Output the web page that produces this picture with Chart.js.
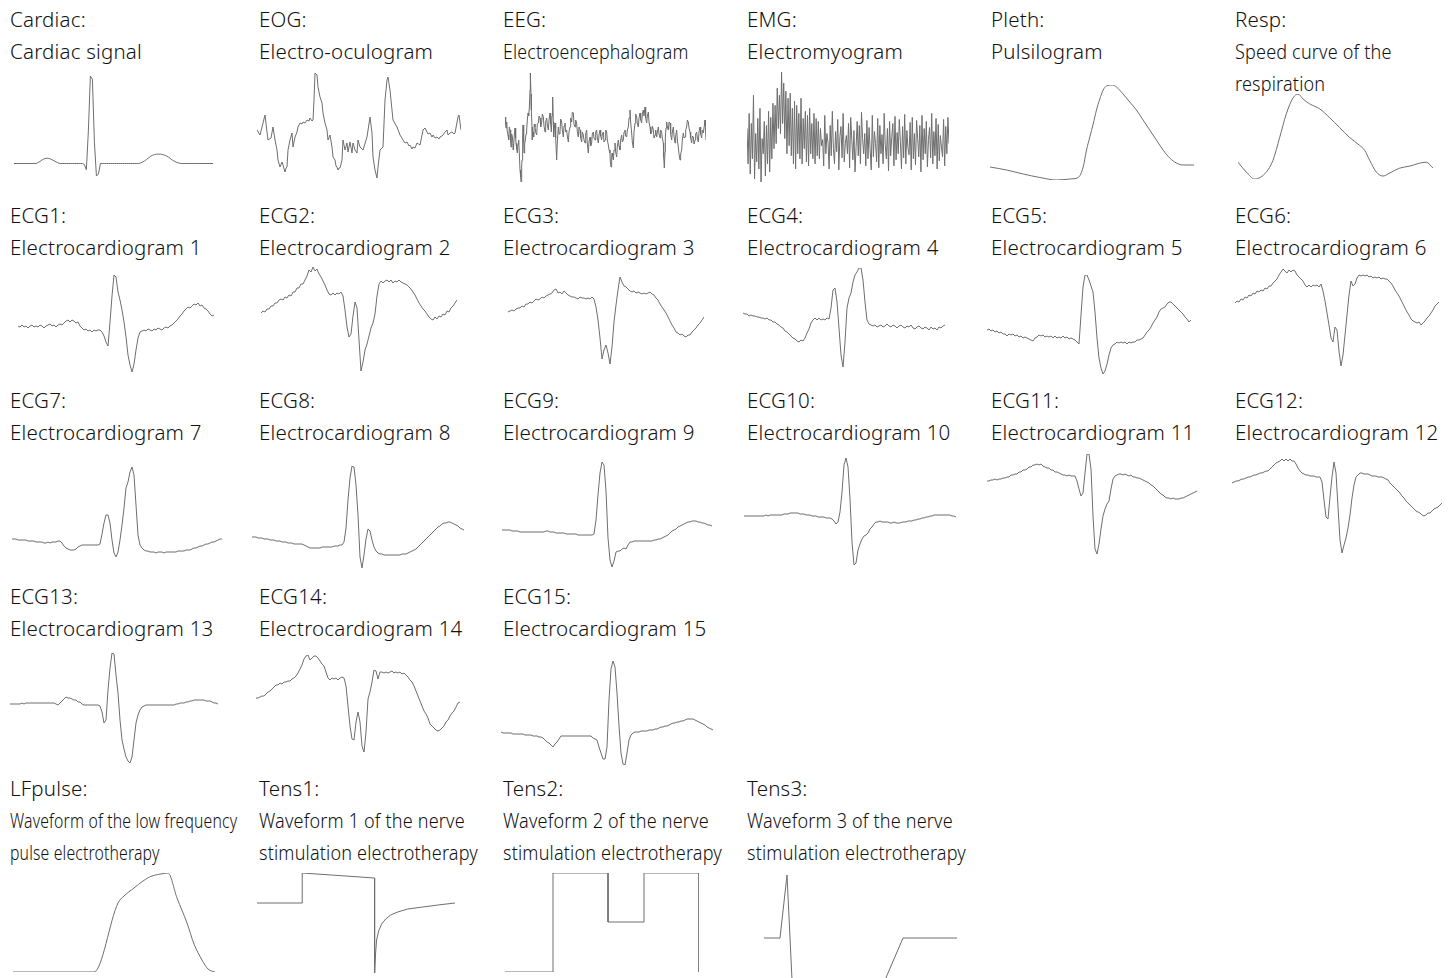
<!DOCTYPE html>
<html>
<head>
<meta charset="utf-8">
<title>Biosignal waveforms</title>
<style>
    html, body {
        margin: 0;
        padding: 0;
        background: #FFFFFF;
        overflow: hidden;
    }
    body {
        position: relative;
        width: 1454px;
        height: 978px;
        font-family: 'Noto Sans', sans-serif;
        font-weight: 300;
        color: #111111;
    }
    .label {
        position: absolute;
        font-size: 20.5px;
        letter-spacing: 0.2px;
        line-height: 32px;
        white-space: nowrap;
    }
    .label span {
        display: block;
        transform-origin: 0 50%;
    }
    .plot {
        position: absolute;
    }
</style>
<script src="https://cdn.jsdelivr.net/npm/chart.js"></script>
</head>
<body>
<script>
// signal names
const codes = ['Cardiac', 'EOG', 'EEG', 'EMG', 'Pleth', 'Resp',
    'ECG1', 'ECG2', 'ECG3', 'ECG4', 'ECG5', 'ECG6',
    'ECG7', 'ECG8', 'ECG9', 'ECG10', 'ECG11', 'ECG12',
    'ECG13', 'ECG14', 'ECG15',
    'LFpulse', 'Tens1', 'Tens2', 'Tens3'];

const names = ['Cardiac signal', 'Electro-oculogram', 'Electroencephalogram', 'Electromyogram', 'Pulsilogram',
    'Speed curve of the\nrespiration',
    'Electrocardiogram 1', 'Electrocardiogram 2', 'Electrocardiogram 3', 'Electrocardiogram 4',
    'Electrocardiogram 5', 'Electrocardiogram 6', 'Electrocardiogram 7', 'Electrocardiogram 8',
    'Electrocardiogram 9', 'Electrocardiogram 10', 'Electrocardiogram 11', 'Electrocardiogram 12',
    'Electrocardiogram 13', 'Electrocardiogram 14', 'Electrocardiogram 15',
    'Waveform of the low frequency\npulse electrotherapy',
    'Waveform 1 of the nerve\nstimulation electrotherapy',
    'Waveform 2 of the nerve\nstimulation electrotherapy',
    'Waveform 3 of the nerve\nstimulation electrotherapy'];

// samples (plain arrays = evenly spaced, [t, v] = timed points)
const cardiac = [14,14,14,14,14,14,14,14,14,14,14,
    14,15,16,17.5,18.5,19,19,18.5,17.5,16.5,15.5,14.5,14,
    14,14,14,14,14,14,14,14,14,14,14,
    13,8,45,98,95,35,2,4,14,
    14,14,14,14,14,14,14,14,14,14,14,14,14,14,14,14,14,14,
    14,14.5,15.5,16.5,18,19.5,21,22,22.5,23,23,23,22.5,22,21,20,18.5,17,16,15,14.5,14,14,
    14,14,14,14,14,14,14,14,14,14,14,14,14,14,14];

const eog = [[0,50],[3,45],[6,57],[8,65],[10,48],[11,40],[14,42],[16,53],[18,40],[20,30],[21,20],[23,13],
    [25,18],[26,15],[28,8],[29,12],[30,13],[31,30],[33,40],[35,47],[36,33],[38,43],[40,48],[41,53],[43,57],
    [45,56],[46,58],[48,57],[50,60],[52,59],[53,62],[55,59],[56,60],[57,80],[58,107],[60,105],[61,93],[63,83],
    [65,77],[66,67],[68,57],[70,50],[71,40],[73,45],[75,33],[76,23],[78,20],[79,14],[80,13],[81,10],[82,12],
    [83,12],[85,20],[86,40],[88,30],[90,37],[91,28],[93,38],[95,27],[96,37],[98,30],[100,27],[101,40],
    [103,33],[106,30],[110,43],[113,63],[115,47],[116,23],[118,10],[120,2],[121,13],[123,30],[126,33],
    [128,80],[130,100],[131,103],[133,90],[135,70],[136,60],[140,53],[143,45],[146,40],[148,37],[150,38],
    [152,34],[153,35],[155,31],[156,33],[158,32],[160,37],[163,35],[166,50],[168,52],[170,48],[171,46],
    [173,47],[175,43],[176,45],[178,42],[180,43],[182,41],[183,43],[185,44],[186,45],[188,48],[190,50],
    [191,45],[193,47],[195,48],[197,46],[198,47],[201,63],[202,65],[204,50]];

const eeg = [[0,65],[2,58],[3,54],[5,60],[7,50],[9,47],[11,42],[13,55],[15,52],[17,40],[18,35],[20,48],
    [22,45],[24,38],[25,32],[28,47],[30,54],[32,44],[33,39],[35,33],[37,29],[39,38],[41,42],[43,28],[45,12],
    [47,5],[48,0],[50,15],[51,22],[53,45],[54,57],[56,40],[57,29],[59,38],[61,42],[63,48],[65,52],[67,62],
    [69,69],[71,66],[73,75],[75,92],[76,109],[78,88],[79,72],[81,55],[82,42],[84,50],[86,45],[88,58],[90,55],
    [92,50],[95,47],[97,58],[100,59],[102,66],[105,64],[107,55],[110,59],[112,68],[115,65],[117,56],[120,50],
    [122,60],[125,64],[127,57],[130,52],[132,62],[135,69],[137,58],[139,50],[141,66],[143,85],[145,60],
    [146,45],[148,54],[150,59],[152,44],[155,22],[157,40],[160,55],[162,48],[165,50],[167,63],[170,60],
    [172,52],[175,45],[177,56],[180,59],[182,50],[185,52],[187,46],[190,40],[192,50],[195,55],[197,64],
    [200,60],[202,70],[205,69],[207,58],[210,55],[212,62],[215,59],[217,50],[220,45],[222,55],[225,52],
    [227,44],[230,40],[232,50],[235,47],[237,42],[240,39],[242,48],[245,52],[247,38],[250,29],[252,40],
    [255,45],[257,36],[260,39],[262,48],[265,50],[267,44],[270,42],[272,50],[275,52],[277,44],[280,39],
    [282,47],[285,52],[287,46],[290,42],[292,48],[295,50],[297,40],[300,42],[302,52],[305,50],[307,42],
    [310,37],[312,32],[315,29],[316,20],[318,15],[320,25],[321,29],[323,26],[325,22],[327,32],[330,39],
    [332,30],[335,25],[337,36],[340,42],[342,36],[345,32],[347,42],[350,47],[352,40],[355,42],[357,50],
    [360,52],[362,46],[365,45],[367,52],[370,55],[372,64],[375,72],[377,60],[380,49],[382,40],[385,34],
    [387,50],[390,59],[392,68],[395,65],[397,58],[400,55],[402,64],[405,69],[407,62],[410,59],[412,68],
    [415,72],[417,66],[420,75],[422,64],[425,59],[427,66],[430,70],[432,60],[435,55],[437,48],[440,50],
    [442,56],[445,52],[447,44],[450,47],[452,52],[455,45],[457,50],[460,55],[462,48],[465,44],[467,52],
    [470,50],[472,44],[475,39],[476,25],[478,14],[480,30],[481,45],[483,54],[485,60],[487,55],[490,52],
    [492,60],[495,59],[497,48],[500,42],[502,50],[505,55],[507,46],[510,39],[512,46],[515,52],[517,42],
    [520,35],[522,28],[525,22],[527,28],[530,32],[532,42],[535,49],[537,44],[540,45],[542,52],[545,55],
    [547,62],[550,60],[552,54],[555,50],[557,44],[560,39],[562,46],[565,45],[567,38],[570,42],[572,48],
    [575,50],[577,44],[580,40],[582,50],[585,55],[587,48],[590,44],[592,52],[595,49],[597,54],[600,62],
    [601,56],[603,42]];

const emg = [55,20,70,10,60,25,88,5,50,22,65,15,75,2,45,30,62,8,58,20,72,12,66,25,80,35,
    78,40,95,55,88,50,111,60,100,45,92,30,85,38,90,28,75,20,
    82,15,78,30,70,25,85,20,65,35,72,22,68,18,75,30,60,25,70,20,65,28,
    62,25,55,38,44,18,68,30,50,41,15,58,28,72,35,20,52,32,64,14,47,57,26,70,22,40,
    48,30,60,16,66,44,24,53,12,37,62,28,58,20,71,45,30,50,18,63,25,56,34,14,
    68,27,52,40,22,65,16,58,30,49,20,70,38,25,55,13,62,28,46,60,18,67,24,51,
    30,64,42,15,57,26,69,20,53,36,29,61,14,66,25,50,19,63,45,27,58,12,68,24,
    55,30,62,17,44,56,26,70,20,52,28,65,15,59,23,48,37,27,64,18,57,30,66,40];

const pleth = [[0,15],[50,12],[100,8],[150,4.5],[200,2],[240,3],[265,4.5],[280,15],[290,32],[300,45],
    [310,58],[320,72],[330,83],[340,92],[350,96],[367,97],[380,95],[400,88],[420,80],[440,72],[460,62],
    [480,52],[500,42],[520,32],[540,24],[560,19],[580,17],[613,17]];

const resp = [[0,18],[25,8],[50,1],[85,8],[105,20],[125,43],[145,67],[165,83],[180,87],[195,82],[215,77],
    [245,72],[275,63],[305,53],[335,43],[365,35],[380,30],[395,20],[415,8],[435,4],[455,7],[485,12],
    [515,14],[545,17],[565,18],[585,12]];

const ecg1 = [46,45,47,45,46,44,46,47,45,46,45,47,46,44,46,47,48,46,47,45,47,48,47,
    49,51,52,50,52,51,49,50,
    46,44,42,43,41,42,40,42,41,42,
    42,40,36,30,26,
    50,76,97,95,80,
    72,62,50,35,17,7,0,8,
    22,34,40,41,42,
    41,43,42,41,43,42,44,43,42,44,45,44,46,47,49,51,53,
    56,58,61,63,65,64,66,68,67,69,66,67,64,63,61,58,56,57];

const ecg2 = [59,61,60,63,63,66,66,69,69,72,73,72,75,74,77,76,80,80,84,84,
    88,88,92,96,102,100,105,101,103,98,95,91,87,82,78,77,79,77,79,78,
    80,76,62,45,35,38,56,70,64,32,1,10,22,28,36,44,49,58,76,88,
    91,89,91,92,90,92,89,91,90,92,90,89,88,87,85,83,80,77,73,69,
    66,63,61,58,55,53,52,55,53,56,55,58,57,61,60,64,66,69,72];

const ecg3 = [53,54,55,54,56,57,57,59,58,61,61,63,62,64,66,65,66,68,67,69,
    70,71,72,75,76,72,73,71,74,72,70,69,68,68,67,66,68,67,67,66,
    67,66,68,66,58,45,27,6,15,20,12,1,18,43,60,75,88,83,79,78,
    76,74,73,74,72,73,72,71,72,71,72,73,71,70,67,65,61,58,55,52,
    48,44,40,37,33,32,30,31,29,28,30,30,33,35,37,40,42,45,48];

const ecg4 = [57,56,56,54,55,54,54,53,53,52,52,51,52,50,50,48,48,46,45,43,
    42,39,38,36,34,32,31,29,28,30,29,32,37,41,47,50,52,50,52,50,
    51,50,52,51,62,80,82,68,42,15,3,28,62,72,77,88,95,98,102,102,
    90,68,50,46,45,
    44,45,43,44,45,43,44,46,44,43,45,44,42,44,45,43,42,44,43,45,
    42,41,43,44,42,41,43,42,40,43,41,42,40,43,42,44,45];

const ecg5 = [45,46,44,45,43,44,42,43,41,41,39,41,40,41,39,40,38,39,37,38,
    37,36,35,34,37,38,40,39,40,38,39,38,39,37,39,37,38,37,39,37,
    38,36,37,36,35,33,31,60,88,100,100,95,89,83,63,37,17,7,1,4,
    11,20,27,30,31,33,32,33,32,33,31,33,32,33,33,35,35,36,37,40,
    43,45,48,52,55,58,63,66,67,68,71,73,73,71,69,67,65,63,61,58,
    56,53,55];

const ecg6 = [65,67,66,69,68,71,70,73,72,75,74,77,76,78,77,80,79,82,82,85,
    87,89,93,96,99,97,95,98,96,98,97,93,91,89,87,83,81,83,81,83,
    82,83,81,84,77,67,55,43,30,26,41,38,17,2,13,33,53,73,87,82,
    84,90,93,92,93,92,93,91,92,90,91,90,91,89,90,89,89,87,85,82,
    78,75,72,68,64,60,56,53,49,47,46,45,46,43,45,47,50,52,55,58,
    62,64,66];

const ecg7 = [19,19,19,18,18,18,18,18,17,17,17,17,16,16,16,16,15,15,16,15,16,16,16,17,17,
    15,12,10,9,8,8,8,9,11,12,13,13,13,13,13,13,13,13,13,14,
    24,35,43,43,35,18,5,1,6,18,33,50,70,76,86,91,83,53,23,13,10,8,7,7,6,
    6,6,5,6,6,6,5,6,6,6,6,6,
    6,7,7,7,7,8,8,8,9,10,10,11,12,12,13,14,14,15,16,16,17,18,19,19];

const ecg8 = [34,34,34,33,33,33,32,32,32,31,31,31,30,30,30,29,29,29,28,28,
    28,27,27,27,27,27,26,25,24,23,23,23,23,23,23,24,24,24,24,24,
    24,25,25,25,26,26,29,43,71,93,105,104,86,56,14,3,16,32,42,40,
    31,24,20,18,17,17,16,16,16,16,16,16,16,16,16,17,17,17,18,19,
    20,21,22,24,26,28,30,32,34,36,38,40,42,44,45,47,48,48,49,49,
    48,47,46,45,43,42,41];

const ecg9 = [38,38,38,38,38,37,37,37,37,36,36,36,36,36,36,36,36,36,36,36,
    36,36,37,37,36,36,36,35,35,35,35,35,34,34,34,34,34,34,33,33,
    33,33,33,33,33,33,34,48,73,95,106,103,77,30,8,1,7,16,17,17,
    19,20,19,23,26,26,27,27,27,27,27,27,27,27,27,27,28,28,29,29,
    30,31,32,33,35,37,38,39,41,42,43,44,45,46,46,47,47,47,46,46,
    45,45,44,43,43,42];

const ecg10 = [51,51,51,51,51,51,51,51,51,51,51,52,51,52,52,52,52,52,52,52,
    53,53,53,54,54,54,54,54,53,53,53,52,52,52,51,51,51,50,50,50,
    50,49,49,49,48,46,43,45,55,75,102,109,100,68,25,2,4,17,23,28,
    31,32,34,38,40,43,45,45,46,45,45,45,45,44,44,45,44,44,44,45,
    45,45,46,46,46,47,47,48,48,49,49,50,50,51,51,52,52,52,52,52,
    52,52,52,52,51,51,50];

const ecg11 = [75,75,76,76,77,76,77,77,78,78,79,79,81,81,82,82,84,84,86,86,
    87,89,89,91,91,92,91,92,90,89,88,88,86,86,84,84,83,82,81,81,
    80,81,80,80,80,75,67,60,63,83,102,102,87,40,7,2,12,27,40,47,
    52,55,67,77,80,81,82,82,81,82,81,80,81,79,79,78,78,77,76,75,
    74,73,71,70,68,66,64,62,61,59,58,58,57,58,57,57,57,58,58,59,
    60,61,62,63,64,65];

const ecg12 = [73,74,75,75,76,77,77,78,79,79,80,81,81,82,83,83,84,85,85,87,
    89,91,93,94,95,97,95,97,95,97,95,95,92,88,85,83,82,81,81,80,
    80,80,79,79,79,74,56,39,37,59,79,94,83,49,16,3,11,18,28,41,
    58,71,79,81,83,83,82,82,82,81,80,80,80,79,79,79,78,77,76,73,
    71,69,67,65,63,60,58,55,53,51,49,47,45,44,43,41,40,41,43,43,
    45,47,48,49,51,53];

const ecg13 = [59,59,59,59,59,59,60,59,60,60,60,60,60,60,60,60,60,60,60,60,
    60,60,60,59,58,60,62,64,66,65,65,64,63,63,61,61,59,58,58,58,
    58,58,58,58,58,57,51,40,43,73,95,110,109,88,70,43,23,14,6,2,
    0,6,23,40,48,53,56,57,58,58,58,58,58,58,58,58,58,58,58,58,
    58,58,58,59,59,60,60,60,61,61,62,62,63,63,63,63,63,63,62,62,
    62,61,60,60,59];

const ecg14 = [56,56,57,58,58,60,62,63,65,67,69,69,71,70,72,72,73,73,75,76,
    78,81,85,89,95,98,99,94,96,98,98,96,93,90,88,82,76,74,76,75,
    76,74,76,77,76,68,48,28,15,14,32,42,32,8,2,22,55,62,72,84,
    83,75,82,82,81,82,81,82,83,81,82,81,82,80,81,79,77,74,72,68,
    63,58,53,48,43,40,36,30,28,26,24,23,24,26,28,32,34,38,41,43,
    47,51,52];

const ecg15 = [33,32,32,32,32,32,31,31,31,31,31,31,30,30,30,30,29,29,29,28,
    28,27,25,23,22,20,18,21,23,26,29,29,29,29,29,29,29,29,29,29,
    29,29,29,29,29,29,27,26,25,18,12,6,6,18,65,96,104,98,72,39,
    12,1,0,12,25,30,32,33,33,33,34,34,34,34,35,35,35,36,36,37,
    38,38,39,39,40,41,42,42,43,43,44,44,45,46,46,46,46,45,44,43,
    42,41,40,38,37,36,35];

const lfpulse = [[0,0],[81,0],[105,69],[111,76],[121,84],[130,91],[139,96],[148,98],[155,99],
    [164,74],[174,49],[181,28],[189,12],[195,3],[202,0]];

const tens1 = [[0,70],[45,70],[45,100],[117,95],[117,0],[118,20],[119,33],[121,42],[124,49],[128,54],
    [133,58],[140,61],[150,64],[165,66],[180,68],[197,70]];

const tens2 = [[0,0],[48,0],[48,99],[103,99],[103,50],[139,50],[139,99],[194,99],[194,0]];

const tens3 = [[0,0],[16,0],[23,63],[29,-63],[112,-63],[139,0],[193,0]];

const signals = [cardiac, eog, eeg, emg, pleth, resp,
    ecg1, ecg2, ecg3, ecg4, ecg5, ecg6, ecg7, ecg8, ecg9, ecg10, ecg11, ecg12,
    ecg13, ecg14, ecg15, lfpulse, tens1, tens2, tens3];

// layout
const colX = [10, 259, 503, 747, 991, 1235];
const rowY = [3, 199, 384, 580, 772];
const cells = [[0,0],[0,1],[0,2],[0,3],[0,4],[0,5],
    [1,0],[1,1],[1,2],[1,3],[1,4],[1,5],
    [2,0],[2,1],[2,2],[2,3],[2,4],[2,5],
    [3,0],[3,1],[3,2],
    [4,0],[4,1],[4,2],[4,3]];
const squeeze = [1, 1, 0.866, 1, 1, 0.88,
    1, 1, 1, 1, 1, 1, 1, 1, 1, 1, 1, 1, 1, 1, 1,
    0.77, 0.88, 0.88, 0.88];
// plot boxes: left, top, width, height
const boxes = [[14,76,199,100],[257,73,204,105],[505,72.5,201,109],[747,72,202,110],[990,84.5,204,95.5],[1238,93.5,195,85.5],
    [18,275,196,97],[261,267,196,104],[508,277,196,87],[743,268,202,99],[987,275,204,99],[1235,269,204,97],
    [12,467,210,90],[252,466,212,102],[502,462,210,105],[744,458,212,107],[987,454,210,100],[1232,459,210,94],
    [10,653,208,110],[256,655,204,97],[501,661,212,104],
    [13,873,202,99],[257,873,198,100],[505,873,194,99],[764,875,193,126]];
const smooth = ['Pleth', 'Resp', 'LFpulse'];

function toPoints(series) {
    return series.map(function (d, i) {
        return Array.isArray(d) ? {x: d[0], y: d[1]} : {x: i, y: d};
    });
}

codes.forEach(function (code, i) {
    const cell = cells[i];
    const label = document.createElement('div');
    label.className = 'label';
    label.style.left = colX[cell[1]] + 'px';
    label.style.top = rowY[cell[0]] + 'px';
    const first = document.createElement('span');
    first.textContent = code + ':';
    label.appendChild(first);
    names[i].split('\n').forEach(function (line) {
        const s = document.createElement('span');
        s.textContent = line;
        if (squeeze[i] !== 1) s.style.transform = 'scaleX(' + squeeze[i] + ')';
        label.appendChild(s);
    });
    document.body.appendChild(label);

    const pts = toPoints(signals[i]);
    const xs = pts.map(p => p.x), ys = pts.map(p => p.y);
    const b = boxes[i];
    const pad = 2;
    const canvas = document.createElement('canvas');
    canvas.className = 'plot';
    canvas.width = b[2] + 2 * pad;
    canvas.height = b[3] + 2 * pad;
    canvas.style.left = (b[0] - pad) + 'px';
    canvas.style.top = (b[1] - pad) + 'px';
    document.body.appendChild(canvas);

    const isSmooth = smooth.indexOf(code) >= 0;
    new Chart(canvas, {
        type: 'line',
        data: {
            datasets: [{
                data: pts,
                borderColor: '#6e6e6e',
                borderWidth: 1,
                pointRadius: 0,
                fill: false,
                tension: isSmooth ? 0.4 : 0,
                cubicInterpolationMode: isSmooth ? 'monotone' : 'default'
            }]
        },
        options: {
            responsive: false,
            animation: false,
            devicePixelRatio: 1,
            layout: { padding: pad },
            plugins: {
                legend: { display: false },
                tooltip: { enabled: false }
            },
            scales: {
                x: { type: 'linear', display: false, min: Math.min(...xs), max: Math.max(...xs) },
                y: { display: false, min: Math.min(...ys), max: Math.max(...ys) }
            }
        }
    });
});
</script>
</body>
</html>
